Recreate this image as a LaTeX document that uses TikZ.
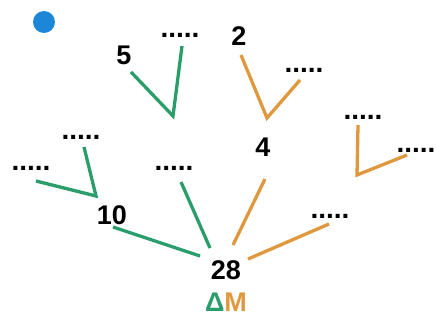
\documentclass[tikz,border=0pt]{standalone}
\usepackage{fontspec}
\setmainfont{Liberation Sans}
\usepackage{xcolor}
\usepackage{tikz}
\usetikzlibrary{calc,positioning}
\definecolor{msgrn}{HTML}{2A9D6B}
\definecolor{msorg}{HTML}{E0983F}
\definecolor{msblu}{HTML}{1B87D6}
\tikzset{
  msnum/.style={inner sep=0pt, font=\fontsize{27}{27}\selectfont\bfseries},
  msdot/.style={inner sep=0pt, font=\fontsize{28}{28}\selectfont\bfseries},
  msg/.style={draw=msgrn, line width=3.3pt},
  mso/.style={draw=msorg, line width=3.3pt}
}

\begin{document}
\begin{tikzpicture}[x=1pt,y=-1pt]
  \useasboundingbox (0,0) rectangle (436,321);
  \fill[msblu] (44,22) circle (11);
  % labels
  \node[msnum] (n5) at (124,55) {5};
  \node[msnum] (n2) at (239,36) {2};
  \node[msnum] (n4) at (263,147) {4};
  \node[msnum] (n10) at (112,215) {10};
  \node[msnum] (n28) at (226,270) {28};
  \node[msnum] (dm) at (226,302) {\textcolor{msgrn}{Δ}\textcolor{msorg}{M}};
  \node[msdot] (d1) at (180,35) {.....};
  \node[msdot] (d2) at (81,137) {.....};
  \node[msdot] (d3) at (31,168) {.....};
  \node[msdot] (d4) at (174,168) {.....};
  \node[msdot] (d5) at (304,70) {.....};
  \node[msdot] (d6) at (363,117) {.....};
  \node[msdot] (d7) at (416,150) {.....};
  \node[msdot] (d8) at (330,216) {.....};
  % line ends
  \coordinate (a5) at (131,72);
  \coordinate (v5) at (173,116);
  \coordinate (b5) at (182,46);
  \coordinate (a10) at (36,181);
  \coordinate (v10) at (96,196);
  \coordinate (b10) at (84,147);
  \coordinate (s10) at (113,227);
  \coordinate (t10) at (200,256);
  \coordinate (sm) at (181,182);
  \coordinate (tm) at (210,248);
  \coordinate (a2) at (241,55);
  \coordinate (v2) at (267,118);
  \coordinate (b2) at (300,80);
  \coordinate (s4) at (265,179);
  \coordinate (t4) at (233,245);
  \coordinate (s28) at (248,259);
  \coordinate (t28) at (329,224);
  \coordinate (ar) at (358,125);
  \coordinate (vr) at (357,175);
  \coordinate (br) at (407,155);
  % green
  \draw[msg] (a5) -- (v5) -- (b5);
  \draw[msg] (a10) -- (v10) -- (b10);
  \draw[msg] (s10) -- (t10);
  \draw[msg] (sm) -- (tm);
  % orange
  \draw[mso] (a2) -- (v2) -- (b2);
  \draw[mso] (s4) -- (t4);
  \draw[mso] (s28) -- (t28);
  \draw[mso] (ar) -- (vr) -- (br);
\end{tikzpicture}
\end{document}
